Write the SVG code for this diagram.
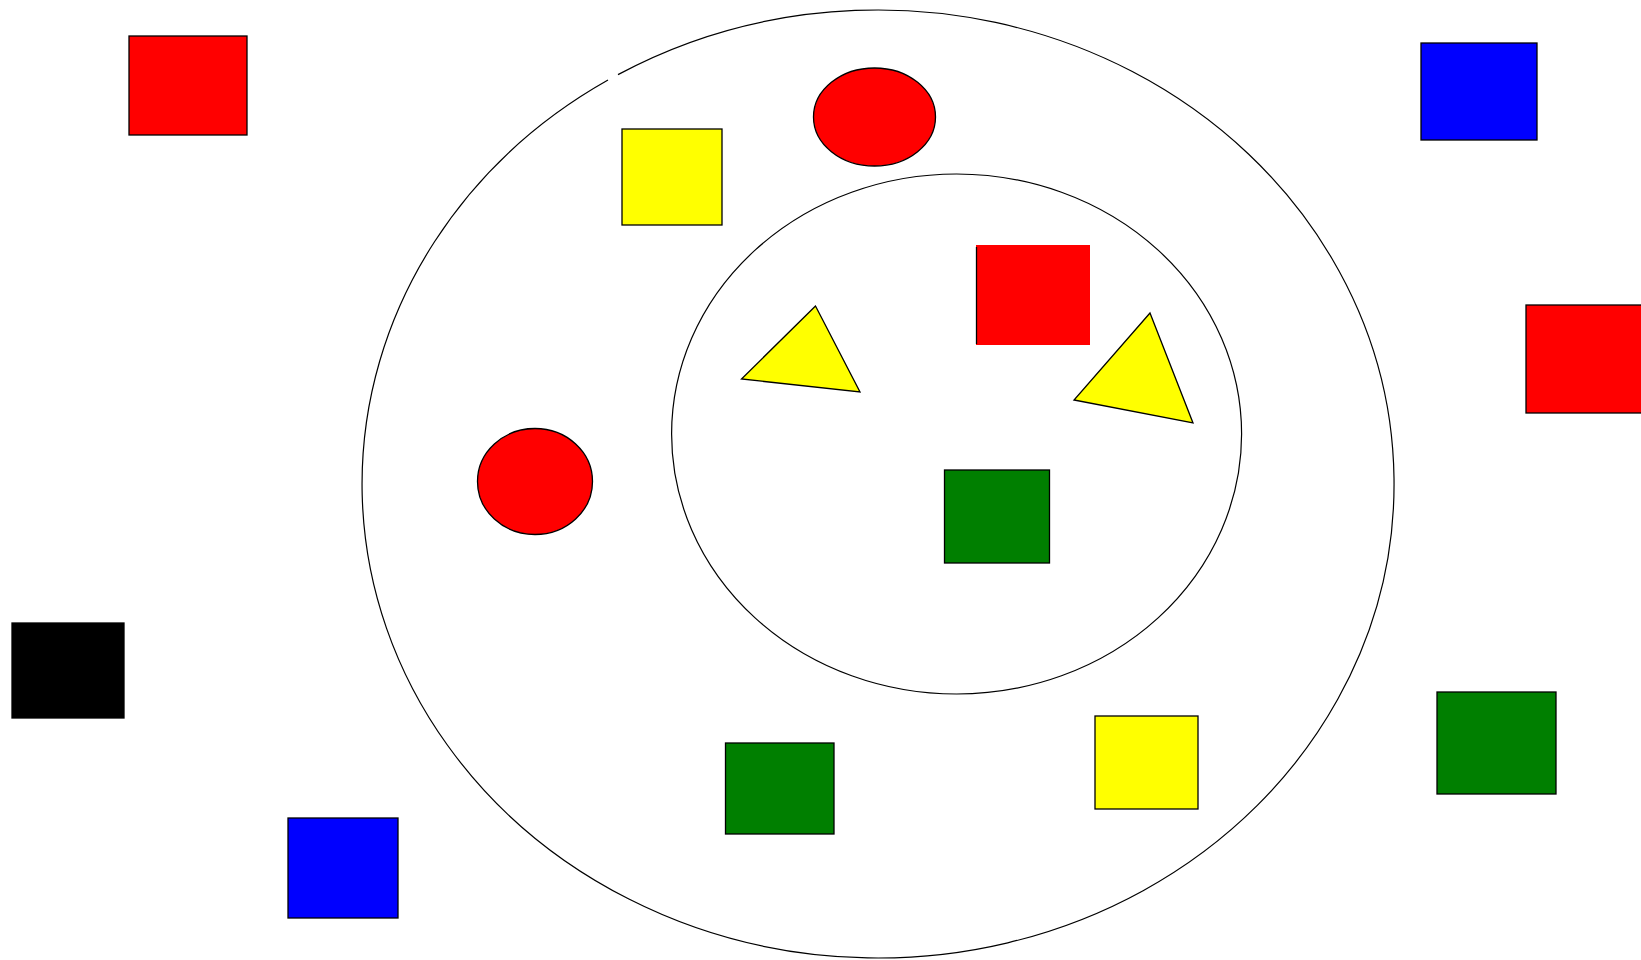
<svg xmlns="http://www.w3.org/2000/svg" width="1641" height="960" viewBox="0 0 1641 960">
<style>
.s{stroke:#000;stroke-width:1.3}
.ring{fill:none;stroke:#000;stroke-width:1.2}
.r{fill:#ff0000}.b{fill:#0000ff}.y{fill:#ffff00}.g{fill:#007f00}.k{fill:#000}
</style>
<rect width="1641" height="960" fill="#fff"/>
<g id="outer-ring"><path class="ring" d="M 618 74.6 A 516 474 0 1 1 608 80.1"/></g>
<g id="inner-ring"><ellipse class="ring" cx="914" cy="434" rx="285" ry="260" transform="translate(42.6 0)"/></g>
<g id="red-square-tl"><rect class="r s" x="129" y="36" width="118" height="99"/></g>
<g id="blue-square-tr"><rect class="b s" x="1421" y="43" width="116" height="97"/></g>
<g id="red-square-r"><rect class="r s" x="1526" y="305" width="120" height="108"/></g>
<g id="black-square"><rect class="k s" x="12" y="623" width="112" height="95"/></g>
<g id="blue-square-b"><rect class="b s" x="288" y="818" width="110" height="100"/></g>
<g id="green-square-r"><rect class="g s" x="1437" y="692" width="119" height="102"/></g>
<g id="yellow-square-t"><rect class="y s" x="622" y="129" width="100" height="96"/></g>
<g id="red-ellipse-t"><ellipse class="r s" cx="874.5" cy="117" rx="61" ry="49"/></g>
<g id="red-square-inner"><rect class="r" x="976" y="245" width="114" height="100"/><line x1="976.5" y1="247" x2="976.5" y2="344" stroke="#000" stroke-width="1.3"/></g>
<g id="triangle-1"><polygon class="y s" points="815.5,306 741.5,379 860,392"/></g>
<g id="triangle-2"><polygon class="y s" points="1150,313 1074,400 1193,423"/></g>
<g id="red-circle-l"><ellipse class="r s" cx="535" cy="481.5" rx="57.5" ry="53"/></g>
<g id="green-square-inner"><rect class="g s" x="944.5" y="470" width="105" height="93"/></g>
<g id="green-square-b"><rect class="g s" x="725.5" y="743" width="108.5" height="91"/></g>
<g id="yellow-square-b"><rect class="y s" x="1095" y="716" width="103" height="93"/></g>
<g id="connectors"></g>
</svg>
